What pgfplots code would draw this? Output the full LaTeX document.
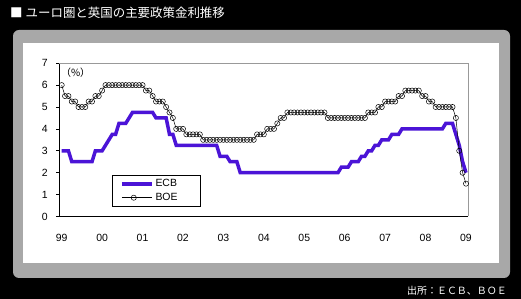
\documentclass[border=0pt]{standalone}
\usepackage{fontspec}
\setmainfont{Liberation Sans}
\newfontfamily\cjk{Noto Sans CJK JP}
\usepackage{pgfplots}
\pgfplotsset{compat=1.18}
\usepackage{pgfplotstable}
\definecolor{ecb}{RGB}{75,20,215}
\definecolor{framegray}{RGB}{168,168,168}

\pgfplotstableread{
m ecb boe
0 3.00 6.00
1 3.00 5.50
2 3.00 5.50
3 2.50 5.25
4 2.50 5.25
5 2.50 5.00
6 2.50 5.00
7 2.50 5.00
8 2.50 5.25
9 2.50 5.25
10 3.00 5.50
11 3.00 5.50
12 3.00 5.75
13 3.25 6.00
14 3.50 6.00
15 3.75 6.00
16 3.75 6.00
17 4.25 6.00
18 4.25 6.00
19 4.25 6.00
20 4.50 6.00
21 4.75 6.00
22 4.75 6.00
23 4.75 6.00
24 4.75 6.00
25 4.75 5.75
26 4.75 5.75
27 4.75 5.50
28 4.50 5.25
29 4.50 5.25
30 4.50 5.25
31 4.50 5.00
32 3.75 4.75
33 3.75 4.50
34 3.25 4.00
35 3.25 4.00
36 3.25 4.00
37 3.25 3.75
38 3.25 3.75
39 3.25 3.75
40 3.25 3.75
41 3.25 3.75
42 3.25 3.50
43 3.25 3.50
44 3.25 3.50
45 3.25 3.50
46 3.25 3.50
47 2.75 3.50
48 2.75 3.50
49 2.75 3.50
50 2.50 3.50
51 2.50 3.50
52 2.50 3.50
53 2.00 3.50
54 2.00 3.50
55 2.00 3.50
56 2.00 3.50
57 2.00 3.50
58 2.00 3.75
59 2.00 3.75
60 2.00 3.75
61 2.00 4.00
62 2.00 4.00
63 2.00 4.00
64 2.00 4.25
65 2.00 4.50
66 2.00 4.50
67 2.00 4.75
68 2.00 4.75
69 2.00 4.75
70 2.00 4.75
71 2.00 4.75
72 2.00 4.75
73 2.00 4.75
74 2.00 4.75
75 2.00 4.75
76 2.00 4.75
77 2.00 4.75
78 2.00 4.75
79 2.00 4.50
80 2.00 4.50
81 2.00 4.50
82 2.00 4.50
83 2.25 4.50
84 2.25 4.50
85 2.25 4.50
86 2.50 4.50
87 2.50 4.50
88 2.50 4.50
89 2.75 4.50
90 2.75 4.50
91 3.00 4.75
92 3.00 4.75
93 3.25 4.75
94 3.25 5.00
95 3.50 5.00
96 3.50 5.25
97 3.50 5.25
98 3.75 5.25
99 3.75 5.25
100 3.75 5.50
101 4.00 5.50
102 4.00 5.75
103 4.00 5.75
104 4.00 5.75
105 4.00 5.75
106 4.00 5.75
107 4.00 5.50
108 4.00 5.50
109 4.00 5.25
110 4.00 5.25
111 4.00 5.00
112 4.00 5.00
113 4.00 5.00
114 4.25 5.00
115 4.25 5.00
116 4.25 5.00
117 3.75 4.50
118 3.25 3.00
119 2.50 2.00
120 2.00 1.50
}\rates

\begin{document}
\begin{tikzpicture}
\fill[black] (0bp,0bp) rectangle (521bp,299bp);
\useasboundingbox (0bp,0bp) rectangle (521bp,299bp);
\fill[framegray, rounded corners=6bp] (13bp,21bp) rectangle (510bp,269bp);
\fill[white] (23bp,36bp) rectangle (499bp,256bp);
\node[anchor=west, text=white, font=\cjk\fontsize{12.5}{14}\selectfont, inner sep=0] at (10bp,286bp) {■\hspace{3bp}ユーロ圏と英国の主要政策金利推移};
\node[anchor=east, text=white, font=\cjk\fontsize{10}{12}\selectfont, inner sep=0] at (507bp,8.3bp) {出所：ＥＣＢ、ＢＯＥ};
\begin{axis}[
  at={(59.3bp,82.5bp)}, anchor=south west, scale only axis,
  width=408.7bp, height=153.3bp,
  xmin=-0.71, xmax=120.6, ymin=0, ymax=7,
  axis lines*=left,
  axis line style={black, line width=0.8bp},
  xtick={0,12,...,120},
  xticklabels={99,00,01,02,03,04,05,06,07,08,09},
  ytick={0,1,2,3,4,5,6,7},
  tick align=outside, major tick length=3bp,
  tick style={black, line width=0.6bp},
  xtick style={draw=none},
  ticklabel style={font=\fontsize{10.5}{12}\selectfont},
  /pgf/number format/assume math mode=true,
  xticklabel style={yshift=-11bp},
  yticklabel style={xshift=-5bp},
  legend style={at={(0.128,0.273)}, anchor=north west, draw=black, line width=0.8bp,
    fill=white, font=\fontsize{10.5}{12}\selectfont, inner xsep=8bp, inner ysep=2.5bp,
    row sep=1bp},
  legend cell align=left,
  legend image code/.code={\draw[mark repeat=2,mark phase=2,#1] plot coordinates {(0bp,0bp) (12bp,0bp) (30bp,0bp)};},
  clip=false,
]
\draw[gray!80, line width=0.6bp] (rel axis cs:0,1) -- (rel axis cs:1,1) -- (rel axis cs:1,0);
\addplot[ecb, line width=3.5bp, no markers] table[x=m, y=ecb] {\rates};
\addlegendentry{ECB\hspace{13bp}\null}
\addplot[black, line width=0.5bp, mark=o, mark size=2.6bp, mark options={fill=white, line width=0.5bp}] table[x=m, y=boe] {\rates};
\addlegendentry{BOE\hspace{13bp}\null}
\node[font=\cjk\fontsize{10}{12}\selectfont] at (rel axis cs:0.040,0.941) {（\%）};
\end{axis}
\end{tikzpicture}
\end{document}
